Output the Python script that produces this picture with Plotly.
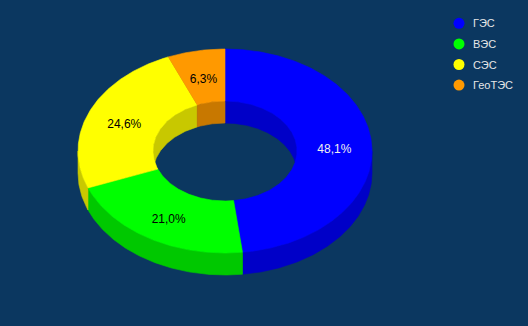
import numpy as np
import plotly.graph_objects as go

# ---- data ----
categories = ["ГЭС", "ВЭС", "СЭС", "ГеоТЭС"]
shares = [48.1, 21.0, 24.6, 6.3]
share_labels = ["48,1%", "21,0%", "24,6%", "6,3%"]

# ---- styles ----
top_colors = ["#0000FF", "#00FF00", "#FFFF00", "#FF9900"]
side_colors = ["#0000C8", "#00C800", "#C8C800", "#C87800"]
label_colors = ["#F0F0F0", "#000000", "#000000", "#000000"]
BG = "#0B3760"
W, H = 528, 326

# ---- geometry of the projected donut (pixel space) ----
CX, CY = 225.0, 151.0
RX, RY = 147.0, 102.0
HOLE = 0.49
IRX, IRY = RX * HOLE, RY * HOLE
DEPTH = 22.0
LABEL_DY = 3.5


def pt(theta_deg, rx, ry, dy=0.0):
    t = np.radians(theta_deg)
    return CX + rx * np.sin(t), CY - ry * np.cos(t) + dy


def arc(a0, a1, rx, ry, dy=0.0, n=None):
    if n is None:
        n = max(4, int(abs(a1 - a0) * 2))
    th = np.linspace(a0, a1, n)
    x, y = pt(th, rx, ry, dy)
    return list(x), list(y)


def intersect(a0, a1, lo, hi):
    out = []
    for shift in (-360, 0, 360):
        s, e = max(a0, lo + shift), min(a1, hi + shift)
        if e > s:
            out.append((s, e))
    return out


total = sum(shares)
bounds = []
acc = 0.0
for v in shares:
    a0 = acc / total * 360.0
    acc += v
    a1 = acc / total * 360.0
    bounds.append((a0, a1))

fig = go.Figure()


def poly(xs, ys, color):
    fig.add_trace(go.Scatter(
        x=xs + [xs[0]], y=ys + [ys[0]], mode="lines", fill="toself",
        fillcolor=color, line=dict(color=color, width=0.6),
        hoverinfo="skip", showlegend=False))


# inner walls (back half, seen through the hole)
for (a0, a1), c in zip(bounds, side_colors):
    for s, e in intersect(a0, a1, -90, 90):
        x1, y1 = arc(s, e, IRX, IRY)
        x2, y2 = arc(e, s, IRX, IRY, DEPTH)
        poly(x1 + x2, y1 + y2, c)

# outer walls (front half)
for (a0, a1), c in zip(bounds, side_colors):
    for s, e in intersect(a0, a1, 90, 270):
        x1, y1 = arc(s, e, RX, RY)
        x2, y2 = arc(e, s, RX, RY, DEPTH)
        poly(x1 + x2, y1 + y2, c)

# top faces
for (a0, a1), c in zip(bounds, top_colors):
    x1, y1 = arc(a0, a1, RX, RY)
    x2, y2 = arc(a1, a0, IRX, IRY)
    poly(x1 + x2, y1 + y2, c)

# data labels at mid-ring
mids = [(a0 + a1) / 2 for a0, a1 in bounds]
lx, ly = pt(np.array(mids), (RX + IRX) / 2, (RY + IRY) / 2, LABEL_DY)
fig.add_trace(go.Scatter(
    x=lx, y=ly, mode="text", text=share_labels,
    textfont=dict(family="Liberation Sans, Arial, sans-serif", size=12,
                  color=label_colors),
    hoverinfo="skip", showlegend=False))

# legend (manual, top right)
LEG_X, LEG_Y0, LEG_DY = 459, 23.3, 20.6
ly_leg = [LEG_Y0 + i * LEG_DY for i in range(len(categories))]
fig.add_trace(go.Scatter(
    x=[LEG_X] * len(categories), y=ly_leg, mode="markers",
    marker=dict(size=11, color=top_colors, line=dict(width=0)),
    hoverinfo="skip", showlegend=False))
for name, yy in zip(categories, ly_leg):
    fig.add_annotation(x=LEG_X + 12, y=yy, text=name, showarrow=False,
                       xanchor="left", yanchor="middle",
                       font=dict(family="Liberation Sans, Arial, sans-serif",
                                 size=11, color="#E6E6E6"))

fig.update_layout(
    width=W, height=H, margin=dict(l=0, r=0, t=0, b=0),
    paper_bgcolor=BG, plot_bgcolor=BG, showlegend=False,
    xaxis=dict(range=[0, W], visible=False, fixedrange=True),
    yaxis=dict(range=[H, 0], visible=False, fixedrange=True),
)

fig.write_html("out.html")
